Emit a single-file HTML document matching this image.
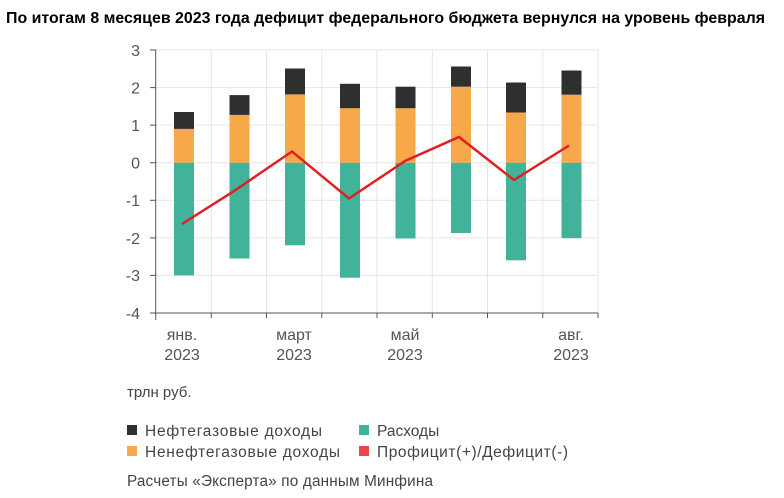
<!DOCTYPE html><html><head><meta charset="utf-8"><style>body{margin:0;background:#fff;width:784px;height:493px;overflow:hidden;font-family:"Liberation Sans",sans-serif}</style></head><body>
<svg width="784" height="493" xmlns="http://www.w3.org/2000/svg" font-family="Liberation Sans, sans-serif">
<text x="6" y="23" font-size="15.5" font-weight="bold" fill="#000" textLength="759" lengthAdjust="spacingAndGlyphs">По итогам 8 месяцев 2023 года дефицит федерального бюджета вернулся на уровень февраля</text>
<g stroke="#e6e6e6" stroke-width="1">
<line x1="156" y1="50" x2="598" y2="50"/><line x1="156" y1="87.6" x2="598" y2="87.6"/><line x1="156" y1="125.1" x2="598" y2="125.1"/><line x1="156" y1="162.7" x2="598" y2="162.7"/><line x1="156" y1="200.3" x2="598" y2="200.3"/><line x1="156" y1="237.9" x2="598" y2="237.9"/><line x1="156" y1="275.4" x2="598" y2="275.4"/>
<line x1="211.3" y1="50" x2="211.3" y2="313"/><line x1="266.5" y1="50" x2="266.5" y2="313"/><line x1="321.8" y1="50" x2="321.8" y2="313"/><line x1="377" y1="50" x2="377" y2="313"/><line x1="432.3" y1="50" x2="432.3" y2="313"/><line x1="487.5" y1="50" x2="487.5" y2="313"/><line x1="542.8" y1="50" x2="542.8" y2="313"/><line x1="598" y1="50" x2="598" y2="313"/>
</g>
<line x1="155.7" y1="50" x2="155.7" y2="320" stroke="#555"/>
<line x1="150" y1="313" x2="598" y2="313" stroke="#555"/>
<g stroke="#555"><line x1="150" y1="50" x2="156" y2="50"/><line x1="150" y1="87.6" x2="156" y2="87.6"/><line x1="150" y1="125.1" x2="156" y2="125.1"/><line x1="150" y1="162.7" x2="156" y2="162.7"/><line x1="150" y1="200.3" x2="156" y2="200.3"/><line x1="150" y1="237.9" x2="156" y2="237.9"/><line x1="150" y1="275.4" x2="156" y2="275.4"/>
<line x1="211.3" y1="313" x2="211.3" y2="318"/><line x1="266.5" y1="313" x2="266.5" y2="318"/><line x1="321.8" y1="313" x2="321.8" y2="318"/><line x1="377" y1="313" x2="377" y2="318"/><line x1="432.3" y1="313" x2="432.3" y2="318"/><line x1="487.5" y1="313" x2="487.5" y2="318"/><line x1="542.8" y1="313" x2="542.8" y2="318"/><line x1="598" y1="313" x2="598" y2="318"/></g>
<g font-size="16" fill="#555" text-anchor="end">
<text x="140" y="56">3</text><text x="140" y="93.5">2</text><text x="140" y="131">1</text><text x="140" y="168.5">0</text><text x="140" y="206">-1</text><text x="140" y="244">-2</text><text x="140" y="281">-3</text><text x="140" y="319">-4</text></g>
<g font-size="16" fill="#555" text-anchor="middle">
<text x="182" y="340">янв.</text><text x="182" y="360">2023</text>
<text x="294" y="340">март</text><text x="294" y="360">2023</text>
<text x="405" y="340">май</text><text x="405" y="360">2023</text>
<text x="571" y="340">авг.</text><text x="571" y="360">2023</text></g>
<g>
<rect x="174" y="162.7" width="20" height="112.7" fill="#41b39a"/><rect x="174" y="128.9" width="20" height="33.8" fill="#f7a84a"/><rect x="174" y="112" width="20" height="16.9" fill="#2f2f2f"/>
<rect x="229.5" y="162.7" width="20" height="95.8" fill="#41b39a"/><rect x="229.5" y="114.9" width="20" height="47.8" fill="#f7a84a"/><rect x="229.5" y="95.1" width="20" height="19.8" fill="#2f2f2f"/>
<rect x="285" y="162.7" width="20" height="82.6" fill="#41b39a"/><rect x="285" y="94.4" width="20" height="68.3" fill="#f7a84a"/><rect x="285" y="68.5" width="20" height="25.9" fill="#2f2f2f"/>
<rect x="340" y="162.7" width="20" height="115" fill="#41b39a"/><rect x="340" y="108.2" width="20" height="54.5" fill="#f7a84a"/><rect x="340" y="83.8" width="20" height="24.4" fill="#2f2f2f"/>
<rect x="395.5" y="162.7" width="20" height="75.8" fill="#41b39a"/><rect x="395.5" y="108.2" width="20" height="54.5" fill="#f7a84a"/><rect x="395.5" y="86.7" width="20" height="21.5" fill="#2f2f2f"/>
<rect x="451" y="162.7" width="20" height="70.3" fill="#41b39a"/><rect x="451" y="86.7" width="20" height="76" fill="#f7a84a"/><rect x="451" y="66.5" width="20" height="20.2" fill="#2f2f2f"/>
<rect x="506" y="162.7" width="20" height="97.6" fill="#41b39a"/><rect x="506" y="112.5" width="20" height="50.2" fill="#f7a84a"/><rect x="506" y="82.5" width="20" height="30" fill="#2f2f2f"/>
<rect x="561.5" y="162.7" width="20" height="75.5" fill="#41b39a"/><rect x="561.5" y="94.7" width="20" height="68" fill="#f7a84a"/><rect x="561.5" y="70.5" width="20" height="24.2" fill="#2f2f2f"/>
</g>
<polyline points="182,224 233,191.7 292,151.5 349,198.5 405,161 459,137 514,180 569,145.5" fill="none" stroke="#e02020" stroke-width="2.5" stroke-linejoin="miter"/>
<text x="127" y="397" font-size="15" fill="#444">трлн руб.</text>
<rect x="127" y="425" width="10" height="10" fill="#2f2f2f"/><text x="145" y="436" font-size="15.5" fill="#444" textLength="177">Нефтегазовые доходы</text>
<rect x="127" y="446" width="10" height="10" fill="#f7a84a"/><text x="145" y="457" font-size="15.5" fill="#444" textLength="195">Ненефтегазовые доходы</text>
<rect x="359" y="425" width="10" height="10" fill="#41b39a"/><text x="377" y="436" font-size="15.5" fill="#444">Расходы</text>
<rect x="359" y="446" width="10" height="10" fill="#e8474a"/><text x="377" y="457" font-size="15.5" fill="#444" textLength="191">Профицит(+)/Дефицит(-)</text>
<text x="127" y="486" font-size="15.3" fill="#444" textLength="306">Расчеты «Эксперта» по данным Минфина</text>
</svg></body></html>
